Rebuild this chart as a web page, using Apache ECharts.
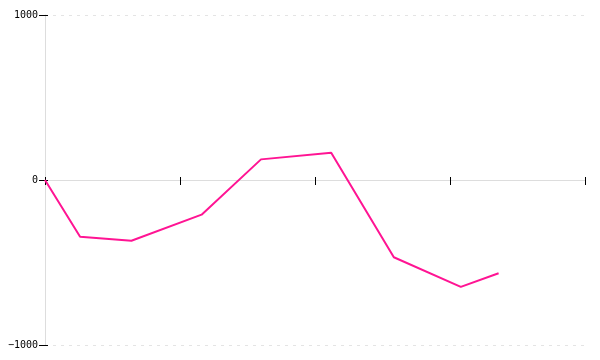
<!DOCTYPE html>
<html><head><meta charset="utf-8">
<script src="https://cdn.jsdelivr.net/npm/echarts@6/dist/echarts.min.js"></script>
<style>html,body{margin:0;padding:0;background:#fff}#c{width:600px;height:360px}</style>
</head><body><div id="c"></div>
<script>
var xValues = [0, 6.5, 16, 29, 40, 53, 64.6, 77, 84];
var yValues = [0, -344, -368, -210, 125, 165, -468, -648, -565];
var yTicks = [-1000, 0, 1000];

var pts = xValues.map(function(x, i){ return [x, yValues[i]]; });
var chart = echarts.init(document.getElementById('c'), null, {renderer:'canvas'});
chart.setOption({
  animation:false,
  grid:{left:45, right:15, top:15, bottom:15, containLabel:false},
  xAxis:[
    {type:'value', min:0, max:100, interval:25,
     axisLine:{show:true, onZero:true, lineStyle:{color:'#ddd', width:1}},
     axisTick:{show:true, length:5, lineStyle:{color:'#000'}},
     axisLabel:{show:false}, splitLine:{show:false}},
    {type:'value', min:0, max:100, interval:25, position:'bottom',
     axisLine:{show:false, onZero:true},
     axisTick:{show:true, inside:true, length:3, lineStyle:{color:'#000'}},
     axisLabel:{show:false}, splitLine:{show:false}}
  ],
  yAxis:[
    {type:'value', min:yTicks[0], max:yTicks[2], interval:1000, position:'left',
     axisLine:{show:true, onZero:false, lineStyle:{color:'#ddd'}},
     axisTick:{show:true, length:6, lineStyle:{color:'#000'}},
     axisLabel:{fontFamily:'DejaVu Sans Mono', fontSize:10, color:'#000', margin:7,
       formatter:function(v){ return v < 0 ? '\u2212' + Math.abs(v) : String(v); }},
     splitLine:{show:true, lineStyle:{color:'#e4e4e4', type:[3,5]}}},
    {type:'value', min:yTicks[0], max:yTicks[2], interval:1000, position:'left',
     axisLine:{show:false, onZero:false},
     axisTick:{show:true, inside:true, length:3, lineStyle:{color:'#000'}},
     axisLabel:{show:false}, splitLine:{show:false}}
  ],
  series:[{type:'line', data:pts, showSymbol:false, symbol:'none',
    lineStyle:{color:'#ff1493', width:2}, z:5}]
});
</script></body></html>
